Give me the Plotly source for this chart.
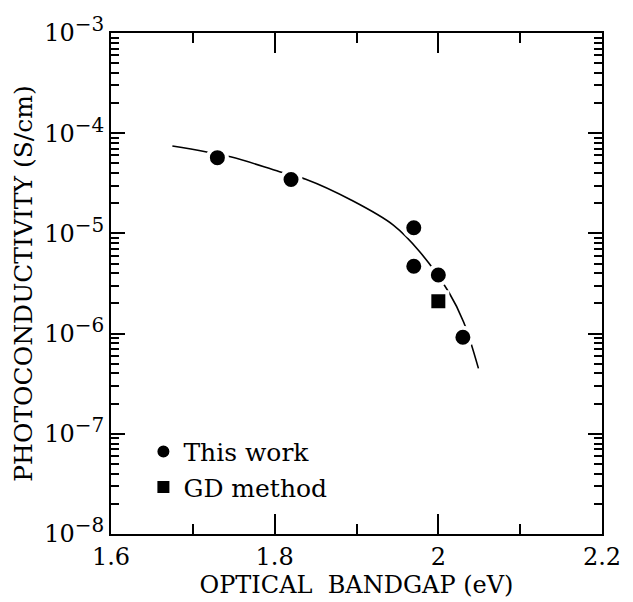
import plotly.graph_objects as go

# Data
work_x = [1.73, 1.82, 1.97, 1.97, 2.00, 2.03]
work_y = [5.7e-5, 3.45e-5, 1.14e-5, 4.7e-6, 3.85e-6, 9.2e-7]
gd_x = [2.00]
gd_y = [2.1e-6]
fit_x = [1.675, 1.746, 1.806, 1.838, 1.894, 1.945, 1.977, 2.013, 2.031, 2.049]
fit_y = [7.46e-5, 5.81e-5, 4.13e-5, 3.47e-5, 2.14e-5, 1.21e-5, 6.6e-6, 2.57e-6, 1.30e-6, 4.5e-7]

x_ticks = [1.6, 1.8, 2.0, 2.2]
x_ticktext = ["1.6", "1.8", "2", "2.2"]
x_minor = [1.7, 1.9, 2.1]
y_ticks = [1e-8, 1e-7, 1e-6, 1e-5, 1e-4, 1e-3]
y_exps = ["−8", "−7", "−6", "−5", "−4", "−3"]
y_ticktext = ["10<sup><span style='font-size:20px'>" + e + "</span></sup>" for e in y_exps]

FONT = "DejaVu Serif"

fig = go.Figure()
fig.add_trace(go.Scatter(x=fit_x, y=fit_y, mode="lines", line=dict(color="black", width=1.6, shape="spline"),
                         showlegend=False, hoverinfo="skip"))
fig.add_trace(go.Scatter(x=work_x, y=work_y, mode="markers", name="This work",
                         marker=dict(symbol="circle", size=19, color="black", line=dict(color="white", width=4))))
fig.add_trace(go.Scatter(x=gd_x, y=gd_y, mode="markers", name="GD method",
                         marker=dict(symbol="square", size=18, color="black", line=dict(color="white", width=4))))

axis_common = dict(showline=True, linecolor="black", linewidth=2, mirror="allticks", ticks="inside",
                   tickcolor="black", tickwidth=2, showgrid=False, zeroline=False,
                   tickfont=dict(family=FONT, size=24, color="black"))

fig.update_xaxes(range=[1.6, 2.2], tickvals=x_ticks, ticktext=x_ticktext, ticklen=20,
                 minor=dict(tickvals=x_minor, ticks="inside", ticklen=10, tickcolor="black", tickwidth=2, showgrid=False),
                 title=dict(text="OPTICAL  BANDGAP (eV)", font=dict(family=FONT, size=24, color="black"), standoff=2),
                 **axis_common)
fig.update_yaxes(type="log", range=[-8, -3], tickvals=y_ticks, ticktext=y_ticktext, ticklen=14,
                 minor=dict(dtick="D1", ticks="inside", ticklen=8, tickcolor="black", tickwidth=1.5, showgrid=False),
                 title=dict(text="PHOTOCONDUCTIVITY (S/cm)", font=dict(family=FONT, size=25, color="black"), standoff=4),
                 **axis_common)

fig.update_layout(
    width=633, height=602,
    margin=dict(l=111, r=20, t=29, b=66),
    plot_bgcolor="white", paper_bgcolor="white",
    font=dict(family=FONT, color="black"),
    legend=dict(x=0.066, y=0.21, xanchor="left", yanchor="top", bgcolor="rgba(0,0,0,0)",
                font=dict(family=FONT, size=25, color="black"), itemwidth=30, tracegroupgap=4),
)

fig.write_html("out.html")
